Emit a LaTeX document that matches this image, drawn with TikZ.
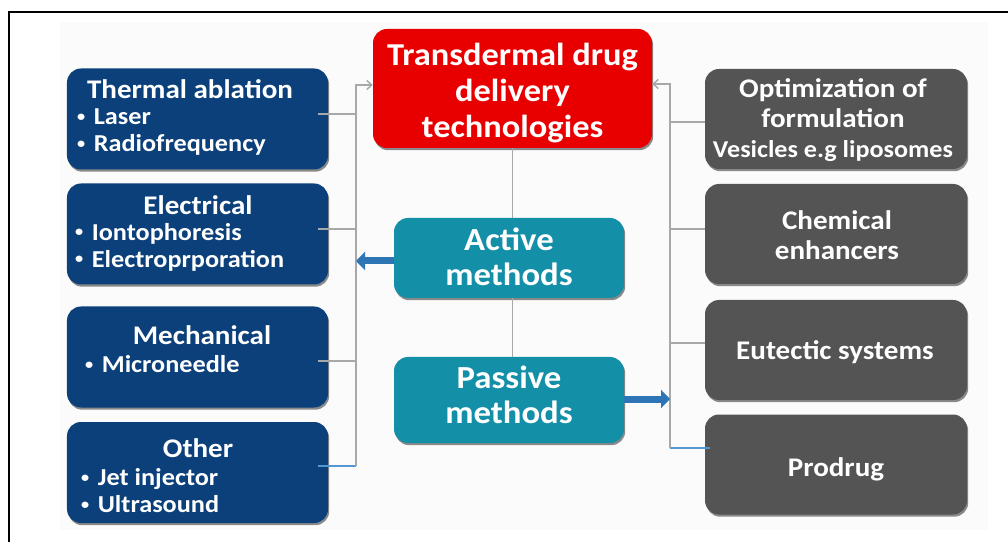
\documentclass[tikz,border=0pt]{standalone}
\usepackage{fontspec}
\setmainfont[FakeStretch=1.08]{Carlito}
\usetikzlibrary{arrows.meta,shadows}

\definecolor{cNavy}{RGB}{11,64,122}
\definecolor{cSlate}{RGB}{84,84,84}
\definecolor{cTeal}{RGB}{20,143,168}
\definecolor{cRed}{RGB}{232,0,0}
\definecolor{cLine}{RGB}{168,168,168}
\definecolor{cLink}{RGB}{84,150,210}
\definecolor{cArrow}{RGB}{46,117,182}
\definecolor{cBg}{RGB}{251,251,251}

% small list bullet
\newcommand{\itemdot}{\raisebox{0.28ex}{\scalebox{0.62}{\textbullet}}\hspace{0.35em}}

\begin{document}
\begin{tikzpicture}[x=1bp,y=-1bp,
  boxbase/.style={rounded corners=14bp, inner sep=0pt,
    drop shadow={shadow xshift=1.2bp, shadow yshift=-2.2bp, opacity=0.45, fill=black}},
  leftbox/.style={boxbase, fill=cNavy, minimum width=261bp, minimum height=101bp},
  rightbox/.style={boxbase, fill=cSlate, minimum width=262bp, minimum height=100bp},
  rootbox/.style={boxbase, fill=cRed, minimum width=279bp, minimum height=119bp},
  methodbox/.style={boxbase, fill=cTeal, minimum width=230bp},
  txt/.style={text=white, inner sep=0pt, align=center},
  head/.style={txt, font=\fontsize{27}{30}\selectfont\bfseries},
  items/.style={txt, anchor=west, align=left, font=\fontsize{24.4}{27}\selectfont\bfseries},
  graytxt/.style={txt, font=\fontsize{27}{30.5}\selectfont\bfseries},
  bigtxt/.style={txt, font=\fontsize{32}{36}\selectfont\bfseries},
  midtxt/.style={txt, font=\fontsize{32.3}{35}\selectfont\bfseries},
  tree/.style={draw=cLine, line width=1.4bp},
  treearrow/.style={tree, -{Straight Barb[length=5bp,width=9bp]}},
  link/.style={draw=cLink, line width=1.2bp},
  fat/.style={draw=cArrow, line width=7bp, -{Triangle[length=9bp,width=18bp]}}
]
\useasboundingbox (0,0) rectangle (1008,542);

% page frame and faint backdrop
\fill[cBg] (60,22) rectangle (988,530);
\draw[line width=2.2bp] (9,545) -- (9,12) -- (1010,12);

% root and method boxes
\node[rootbox] (root) at (512.5,88.5) {};
\node[bigtxt] (rootlbl) at (512.5,93) {Transdermal drug\\delivery\\technologies};
\node[methodbox, minimum height=80bp] (active) at (509,258) {};
\node[midtxt] (activelbl) at (509,257) {Active\\methods};
\node[methodbox, minimum height=86bp] (passive) at (509,400) {};
\node[midtxt] (passivelbl) at (509,395) {Passive\\methods};

% active techniques (left column)
\node[leftbox] (thermal) at (197.5,119) {};
\node[head] (thermalh) at (190,89) {Thermal ablation};
\node[items] (thermali) at (77,132) {\itemdot Laser\\\itemdot Radiofrequency};

\node[leftbox] (electrical) at (197.5,234) {};
\node[head] (electricalh) at (198,205) {Electrical};
\node[items] (electricali) at (75,247) {\itemdot Iontophoresis\\\itemdot Electroprporation};

\node[leftbox] (mechanical) at (197.5,357) {};
\node[head] (mechanicalh) at (202,335) {Mechanical};
\node[items] (mechanicali) at (85,364) {\itemdot Microneedle};

\node[leftbox] (other) at (197.5,472.5) {};
\node[head] (otherh) at (198,448) {Other};
\node[items] (otheri) at (81,491) {\itemdot Jet injector\\\itemdot Ultrasound};

% passive techniques (right column)
\node[rightbox] (optim) at (836,119) {};
\node[graytxt] (optiml) at (833,120) {Optimization of\\formulation\\{\fontsize{24.3}{30.5}\selectfont Vesicles e.g liposomes}};
\node[rightbox] (chem) at (836,234) {};
\node[graytxt] (chemlbl) at (837,235) {Chemical\\enhancers};
\node[rightbox] (eutectic) at (836,350) {};
\node[graytxt] (eutecticlbl) at (835,352) {Eutectic systems};
\node[rightbox] (prodrug) at (836,464.5) {};
\node[graytxt] (prodruglbl) at (836,469) {Prodrug};

% bus lines
\coordinate (lbus) at (356,0);
\coordinate (rbus) at (670,0);

% left tree
\draw[tree] ([xshift=-10bp,yshift=5bp]thermal.east) -- ([yshift=5bp]thermal.east -| lbus);
\draw[tree] ([xshift=-10bp,yshift=5bp]electrical.east) -- ([yshift=5bp]electrical.east -| lbus);
\draw[tree] ([xshift=-10bp,yshift=-4bp]mechanical.east) -- ([yshift=-4bp]mechanical.east -| lbus);
\draw[link] ([xshift=-10bp,yshift=6.5bp]other.east) -- ([yshift=6.5bp]other.east -| lbus);
\draw[treearrow] ([yshift=6.5bp]other.east -| lbus) -- ([yshift=3.5bp]root.west -| lbus) -- ([yshift=3.5bp]root.west);

% right tree
\draw[tree] ([yshift=-3bp]optim.west) -- ([yshift=-3bp]optim.west -| rbus);
\draw[tree] ([yshift=5bp]chem.west) -- ([yshift=5bp]chem.west -| rbus);
\draw[tree] ([yshift=7bp]eutectic.west) -- ([yshift=7bp]eutectic.west -| rbus);
\draw[link] ([xshift=5bp,yshift=16.5bp]prodrug.west) -- ([yshift=16.5bp]prodrug.west -| rbus);
\draw[treearrow] ([yshift=16.5bp]prodrug.west -| rbus) -- ([yshift=4.5bp]root.east -| rbus) -- ([yshift=4.5bp]root.east);

% spine
\draw[tree] (root.south) -- (root.south |- active.north);
\draw[tree] (root.south |- active.south) -- (root.south |- passive.north);

% method arrows
\draw[fat] ([yshift=-3bp]active.west) -- ([yshift=-3bp]active.west -| lbus);
\draw[fat] ([yshift=1bp]passive.east) -- ([yshift=1bp]passive.east -| rbus);
\end{tikzpicture}
\end{document}
